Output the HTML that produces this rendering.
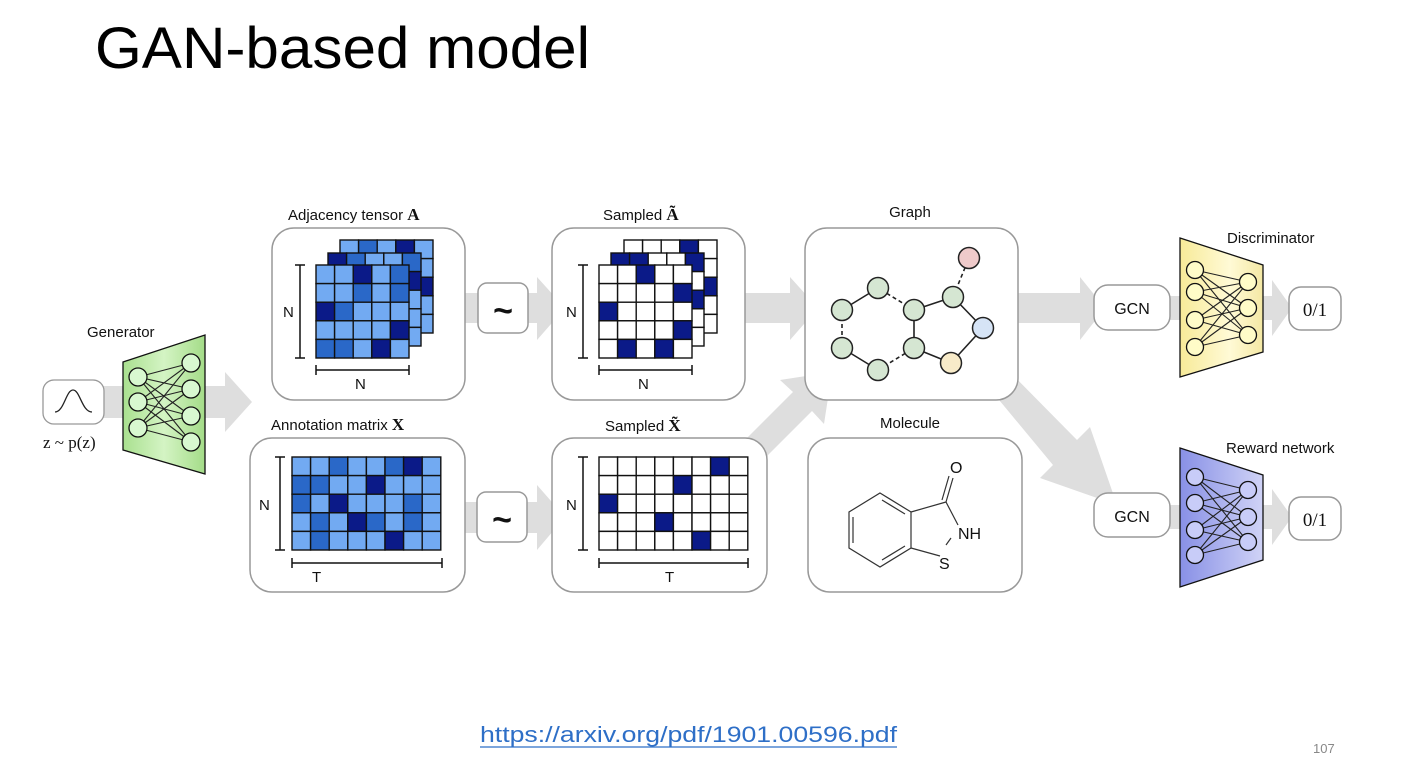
<!DOCTYPE html>
<html><head><meta charset="utf-8"><style>
html,body{margin:0;padding:0;background:#fff;}
svg{display:block;}
.t{font-family:"Liberation Sans",sans-serif;fill:#111;}
.s{font-family:"Liberation Serif",serif;fill:#111;}
</style></head><body>
<svg id="S" width="1426" height="774" viewBox="0 0 1426 774" xmlns="http://www.w3.org/2000/svg">
<defs>
<linearGradient id="gG" x1="0" x2="1"><stop offset="0" stop-color="#a9e08f"/><stop offset="0.5" stop-color="#d4f4c4"/><stop offset="1" stop-color="#a4dc88"/></linearGradient>
<linearGradient id="gY" x1="0" x2="1"><stop offset="0" stop-color="#f7ea98"/><stop offset="0.6" stop-color="#fffad6"/><stop offset="1" stop-color="#f4e8a4"/></linearGradient>
<linearGradient id="gB" x1="0" x2="1"><stop offset="0" stop-color="#8890e6"/><stop offset="1" stop-color="#d0d3f6"/></linearGradient>
</defs>
<text class="t" x="95" y="68" font-size="58" textLength="495" lengthAdjust="spacingAndGlyphs" style="fill:#000">GAN-based model</text>

<!-- gray arrows -->
<g fill="#dedede">
<polygon points="60,386 225,386 225,372 252,402 225,432 225,418 60,418"/>
<polygon points="465,293 537,293 537,277 565,308 537,340 537,323 465,323"/>
<polygon points="465,502 537,502 537,485 565,517 537,550 537,533 465,533"/>
<polygon points="745,293 790,293 790,277 818,308 790,340 790,323 745,323"/>
<polygon points="1018,293 1080,293 1080,277 1105,308 1080,340 1080,323 1018,323"/>
<polygon points="1170,296 1272,296 1272,280 1292,308 1272,336 1272,320 1170,320"/>
<polygon points="1170,505 1272,505 1272,489 1292,517 1272,545 1272,529 1170,529"/>
<polygon points="745,440 793,392 780,380 832,372 824,424 812,411 764,459"/>
<polygon points="985,383 1003,365 1077,440 1090,427 1117,505 1040,478 1053,465"/>
</g>

<!-- gaussian -->
<rect x="43" y="380" width="61" height="44" rx="11" fill="#fff" stroke="#999" stroke-width="1.3"/>
<path d="M55,412 C64,412 66,390 73,390 C80,390 82,412 92,412" fill="none" stroke="#222" stroke-width="1.3"/>
<text class="s" x="43" y="448" font-size="17">z ~ p(z)</text>

<!-- generator -->
<text class="t" x="87" y="337" font-size="15">Generator</text>
<polygon points="123,362 205,335 205,474 123,450" fill="url(#gG)" stroke="#111" stroke-width="1.3"/>
<g id="gen"></g>

<!-- boxes -->
<g fill="#fff" stroke="#999" stroke-width="1.5">
<rect x="272" y="228" width="193" height="172" rx="22"/>
<rect x="552" y="228" width="193" height="172" rx="22"/>
<rect x="250" y="438" width="215" height="154" rx="22"/>
<rect x="552" y="438" width="215" height="154" rx="22"/>
<rect x="805" y="228" width="213" height="172" rx="22"/>
<rect x="808" y="438" width="214" height="154" rx="22"/>
<rect x="478" y="283" width="50" height="50" rx="9"/>
<rect x="477" y="492" width="50" height="50" rx="9"/>
<rect x="1094" y="285" width="76" height="45" rx="14"/>
<rect x="1094" y="493" width="76" height="44" rx="14"/>
<rect x="1289" y="287" width="52" height="43" rx="12"/>
<rect x="1289" y="497" width="52" height="43" rx="12"/>
</g>
<text class="t" x="503" y="322" font-size="34" font-weight="bold" text-anchor="middle">~</text>
<text class="t" x="502" y="531" font-size="34" font-weight="bold" text-anchor="middle">~</text>
<text class="t" x="1132" y="314" font-size="16" text-anchor="middle">GCN</text>
<text class="t" x="1132" y="522" font-size="16" text-anchor="middle">GCN</text>
<text class="s" x="1315" y="316" font-size="19" text-anchor="middle">0/1</text>
<text class="s" x="1315" y="526" font-size="19" text-anchor="middle">0/1</text>

<text class="t" x="288" y="220" font-size="15">Adjacency tensor <tspan class="s" font-weight="bold" font-size="17">A</tspan></text>
<text class="t" x="603" y="220" font-size="15">Sampled <tspan class="s" font-weight="bold" font-size="17">Ã</tspan></text>
<text class="t" x="271" y="430" font-size="15">Annotation matrix <tspan class="s" font-weight="bold" font-size="17">X</tspan></text>
<text class="t" x="605" y="431" font-size="15">Sampled <tspan class="s" font-weight="bold" font-size="17">X̃</tspan></text>
<text class="t" x="910" y="217" font-size="15" text-anchor="middle">Graph</text>
<text class="t" x="910" y="428" font-size="15" text-anchor="middle">Molecule</text>
<text class="t" x="1227" y="243" font-size="15">Discriminator</text>
<text class="t" x="1226" y="453" font-size="15">Reward network</text>

<g id="grids"></g>

<!-- brackets -->
<g stroke="#111" stroke-width="1.5" fill="none">
<path d="M300,265V358M295,265H305M295,358H305M316,370H409M316,365V375M409,365V375"/>
<path d="M583,265V358M578,265H588M578,358H588M599,370H692M599,365V375M692,365V375"/>
<path d="M280,457V550M275,457H285M275,550H285M292,563H442M292,558V568M442,558V568"/>
<path d="M583,457V550M578,457H588M578,550H588M599,563H748M599,558V568M748,558V568"/>
</g>
<g class="t" font-size="15">
<text x="283" y="317">N</text><text x="355" y="389">N</text>
<text x="566" y="317">N</text><text x="638" y="389">N</text>
<text x="259" y="510">N</text><text x="312" y="582">T</text>
<text x="566" y="510">N</text><text x="665" y="582">T</text>
</g>

<!-- graph -->
<g stroke="#222" stroke-width="1.6">
<line x1="878" y1="288" x2="842" y2="310"/>
<line x1="842" y1="310" x2="842" y2="348" stroke-dasharray="4,3"/>
<line x1="842" y1="348" x2="878" y2="370"/>
<line x1="878" y1="370" x2="914" y2="348" stroke-dasharray="4,3"/>
<line x1="914" y1="348" x2="914" y2="310"/>
<line x1="914" y1="310" x2="878" y2="288" stroke-dasharray="4,3"/>
<line x1="914" y1="310" x2="953" y2="297"/>
<line x1="953" y1="297" x2="969" y2="258" stroke-dasharray="4,3"/>
<line x1="953" y1="297" x2="983" y2="328"/>
<line x1="983" y1="328" x2="951" y2="363"/>
<line x1="951" y1="363" x2="914" y2="348"/>
</g>
<g stroke="#222" stroke-width="1.5" fill="#d5e6d2">
<circle cx="878" cy="288" r="10.5"/><circle cx="842" cy="310" r="10.5"/><circle cx="842" cy="348" r="10.5"/>
<circle cx="878" cy="370" r="10.5"/><circle cx="914" cy="310" r="10.5"/><circle cx="914" cy="348" r="10.5"/>
<circle cx="953" cy="297" r="10.5"/>
<circle cx="969" cy="258" r="10.5" fill="#efcaca"/>
<circle cx="983" cy="328" r="10.5" fill="#d6e4f6"/>
<circle cx="951" cy="363" r="10.5" fill="#f8ebc9"/>
</g>

<!-- molecule -->
<g stroke="#333" stroke-width="1.2" fill="none">
<polygon points="880,493 911,512 911,548 880,567 849,548 849,512"/>
<path d="M853,517V543M882,500L905,514M882,560L905,546"/>
<path d="M911,512L946,502M946,502L958,525M911,548L940,556M946,545L951,538"/>
<path d="M946,502L953,478M942,500L949,476"/>
</g>
<g class="t" font-size="16">
<text x="950" y="473">O</text><text x="958" y="539">NH</text><text x="939" y="569">S</text>
</g>

<!-- discriminator / reward -->
<polygon points="1180,238 1263,265 1263,352 1180,377" fill="url(#gY)" stroke="#111" stroke-width="1.3"/>
<polygon points="1180,448 1263,475 1263,560 1180,587" fill="url(#gB)" stroke="#111" stroke-width="1.3"/>
<g id="nets"></g>

<text x="480" y="742" font-family="'Liberation Sans',sans-serif" font-size="22.5" fill="#2e6fc7" textLength="417" lengthAdjust="spacingAndGlyphs">https://arxiv.org/pdf/1901.00596.pdf</text>
<line x1="480" y1="747" x2="897" y2="747" stroke="#2e6fc7" stroke-width="1.3"/>
<text x="1313" y="753" font-family="'Liberation Sans',sans-serif" font-size="13" fill="#888">107</text>
</svg>
<script>
(function(){
var NS="http://www.w3.org/2000/svg";
function el(p,t,a){var e=document.createElementNS(NS,t);for(var k in a)e.setAttribute(k,a[k]);p.appendChild(e);return e;}
var C={L:"#72aaf2",M:"#2a68c8",D:"#0b1a88",W:"#fff"};
var g=document.getElementById("grids");
var cs=18.6;
function grid(x,y,rows){rows.forEach(function(r,i){r.split("").forEach(function(c,j){el(g,"rect",{x:x+j*cs,y:y+i*cs,width:cs,height:cs,fill:C[c],stroke:"#111","stroke-width":1.4});});});}
grid(340,240,["LMLDL","MLLML","LLMLD","LMLLL","MLLDL"]);
grid(328,253,["DMLLM","LLMLD","MLLDL","LMLLL","LLDML"]);
grid(316,265,["LLDLM","LLMLM","DMLLL","LLLLD","MMLDL"]);
grid(624,240,["WWWDW","WWWWW","WWWWD","WWWWW","WWWWW"]);
grid(611,253,["DDWWD","WWWWW","WWWWD","WWWWW","WWWWW"]);
grid(599,265,["WWDWW","WWWWD","DWWWW","WWWWD","WDWDW"]);
grid(292,457,["LLMLLMDL","MMLLDLLL","MLDLLLML","LMLDMLML","LMLLLDLL"]);
grid(599,457,["WWWWWWDW","WWWWDWWW","DWWWWWWW","WWWDWWWW","WWWWWDWW"]);
var n=document.getElementById("gen"),nt=document.getElementById("nets");
function net(p,lx,ly,rx,ry,f,r){ly.forEach(function(a){ry.forEach(function(b){el(p,"line",{x1:lx,y1:a,x2:rx,y2:b,stroke:"#222","stroke-width":1.1});});});
ly.forEach(function(a){el(p,"circle",{cx:lx,cy:a,r:r,fill:f,stroke:"#111","stroke-width":1.3});});
ry.forEach(function(a){el(p,"circle",{cx:rx,cy:a,r:r,fill:f,stroke:"#111","stroke-width":1.3});});}
net(n,138,[377,402,428],191,[363,389,416,442],"#d8f8d0",9);
net(nt,1195,[270,292,320,347],1248,[282,308,335],"#fffcc8",8.5);
net(nt,1195,[477,503,530,555],1248,[490,517,542],"#c8ccf8",8.5);
})();
</script>
</body></html>
